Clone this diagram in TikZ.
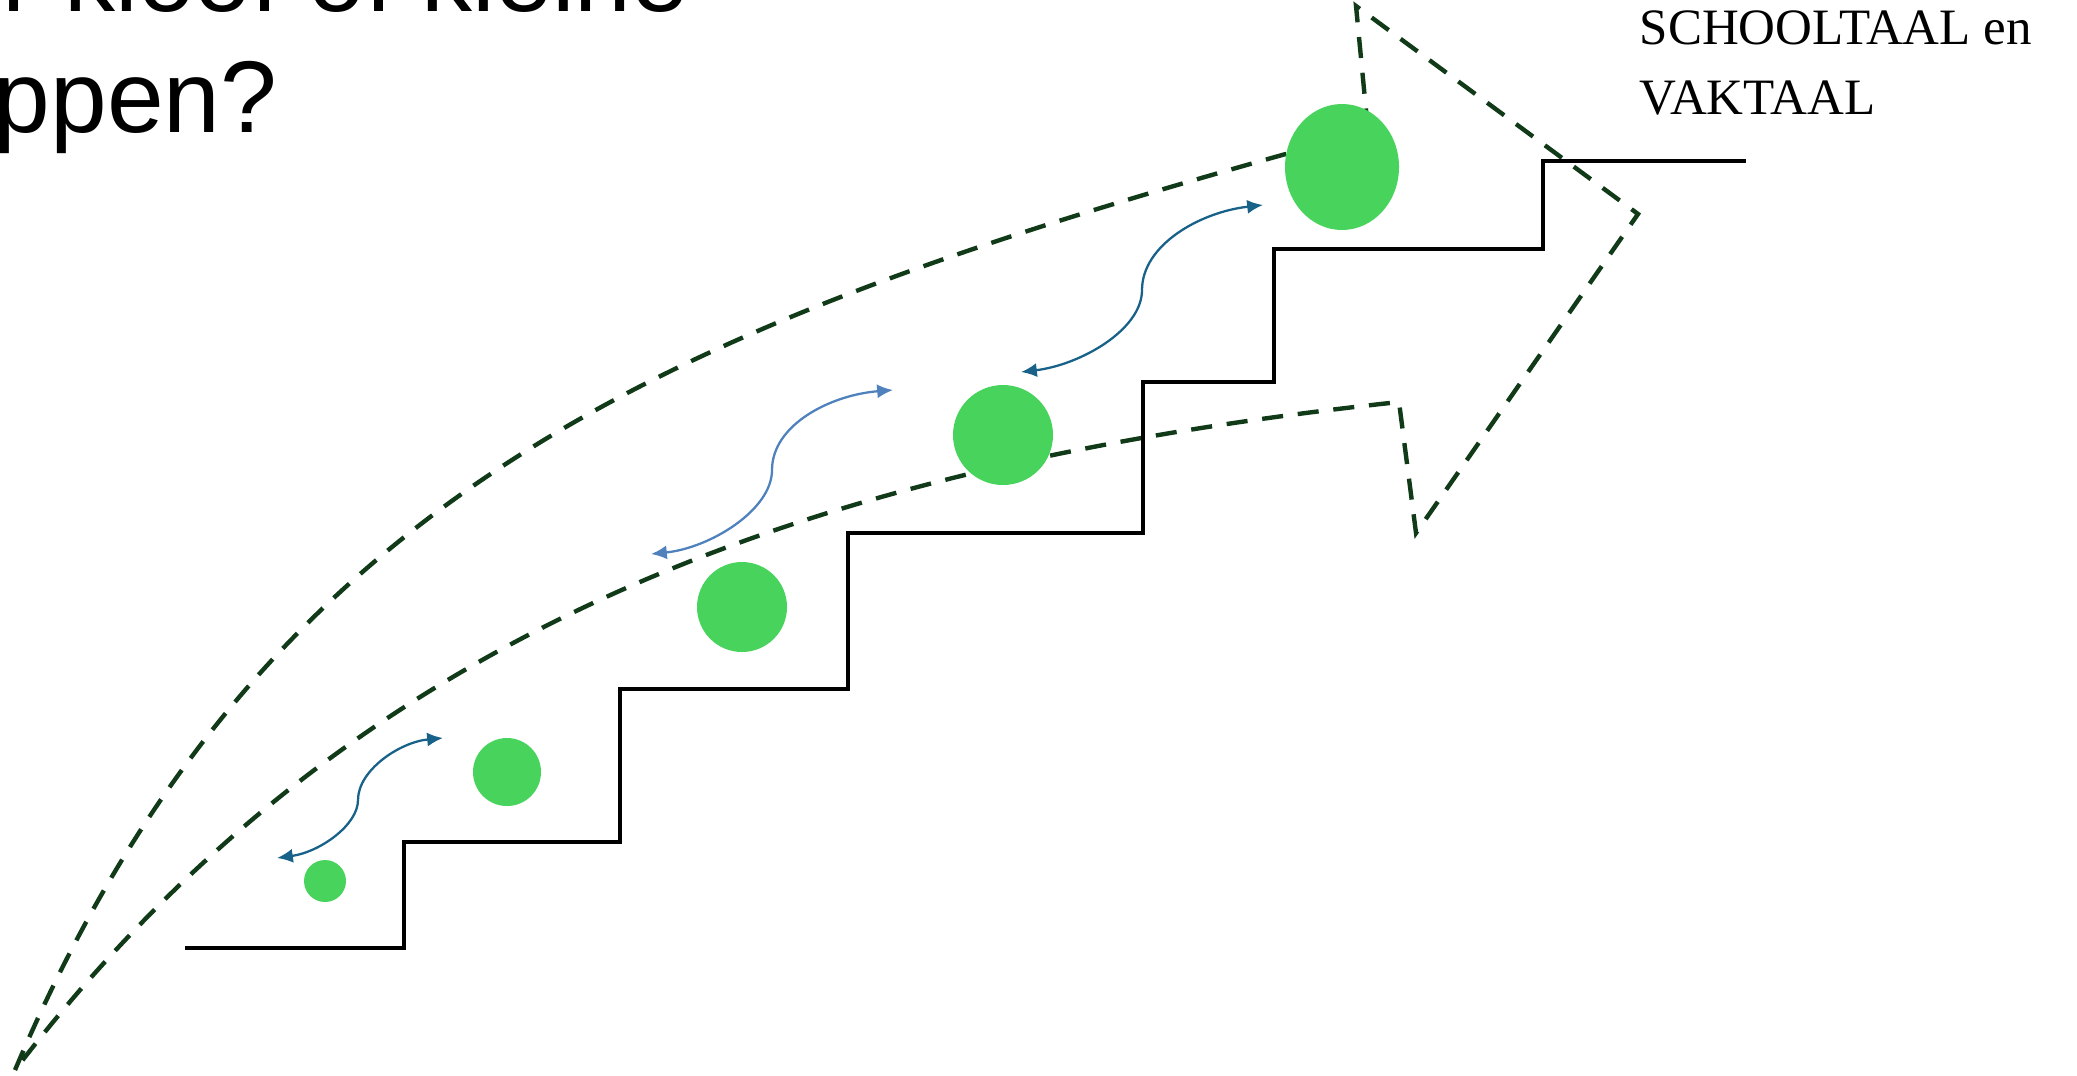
\documentclass[tikz,border=0pt]{standalone}
\usepackage{fontspec}
\usetikzlibrary{arrows.meta}

\newfontfamily\titelfont{Liberation Sans}
\newfontfamily\taalfont{Liberation Serif}

\definecolor{bolgroen}{RGB}{72,212,92}
\definecolor{pijlgroen}{RGB}{17,58,24}
\definecolor{donkerblauw}{RGB}{24,98,138}
\definecolor{lichtblauw}{RGB}{79,129,189}

\tikzset{
  trap/.style={line width=0.95pt, black},
  groeipijl/.style={line width=1.25pt, pijlgroen, dash pattern=on 6pt off 4.2pt},
  wissel/.style={line width=0.65pt, {Latex[length=4.5pt,width=4pt]}-{Latex[length=4.5pt,width=4pt]}},
  bol/.style={fill=bolgroen},
  titel/.style={anchor=base east, inner sep=0, font=\titelfont\fontsize{29}{35}\selectfont},
}

\begin{document}
\begin{tikzpicture}[x=0.01cm, y=-0.01cm]
        \useasboundingbox (0,0) rectangle (2077,1075);
        \clip (0,0) rectangle (2077,1075);

        % grote pijl (gestreept)
        \draw[groeipijl] (15,1070) .. controls (257,500) and (659,330) .. (1275,157) -- (1368,131) -- (1356,6) -- (1638,214) -- (1416,533) -- (1399,402) .. controls (801,466) and (349,633) .. (15,1070);

        % trap
        \draw[trap] (185,948) -- (404,948) -- (404,842) -- (620,842) -- (620,689) -- (848,689) -- (848,533) -- (1143,533) -- (1143,382) -- (1274,382) -- (1274,249) -- (1543,249) -- (1543,161) -- (1746,161);

        % wisselpijlen
        \draw[wissel, donkerblauw] (277,858) .. controls (320,852) and (358,825) .. (358,800) .. controls (358,770) and (400,742) .. (443,738);
        \draw[wissel, lichtblauw] (651,554) .. controls (710,548) and (772,510) .. (772,470) .. controls (772,425) and (830,395) .. (893,390);
        \draw[wissel, donkerblauw] (1021,372) .. controls (1080,365) and (1142,330) .. (1142,290) .. controls (1142,245) and (1200,212) .. (1263,205);

        % bollen
        \fill[bol] (325,881) circle [radius=21]; %stap 1
        \fill[bol] (507,772) circle [radius=34]; %stap 2
        \fill[bol] (742,607) circle [radius=45]; %stap 3
        \fill[bol] (1003,435) circle [radius=50]; %stap 4
        \fill[bol] (1342,167) ellipse [x radius=57, y radius=63]; %top

        % teksten
        \node[titel] (titel1) at (689,11) {Brug over kloof of kleine};
        \node[titel] (titel2) at (278,132) {stappen?};
        \node[anchor=north west, inner sep=0, align=left, font=\taalfont\fontsize{14.5}{20}\selectfont] (taal) at (1639,10) {SCHOOLTAAL en\\VAKTAAL};
\end{tikzpicture}
\end{document}
